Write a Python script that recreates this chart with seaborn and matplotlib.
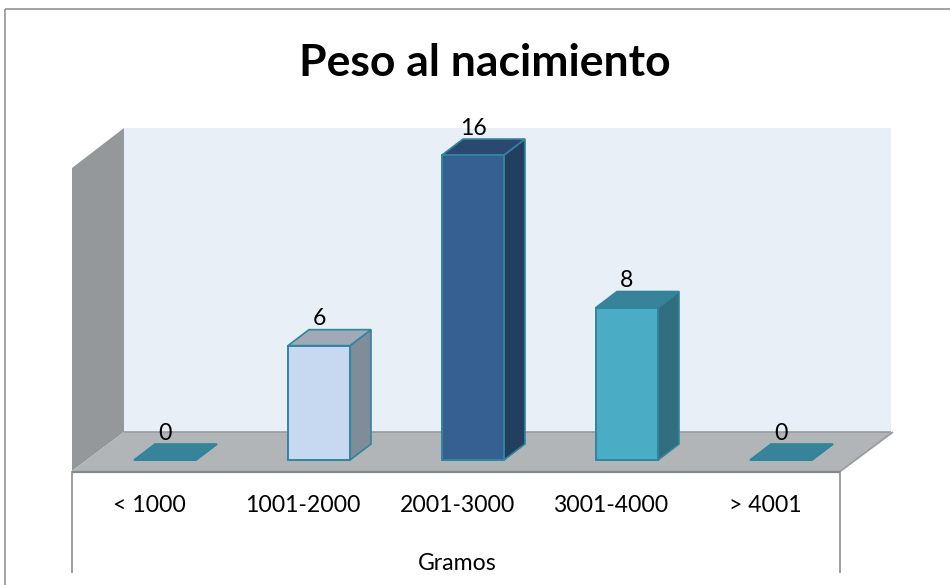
import matplotlib
matplotlib.use("Agg")
import matplotlib.pyplot as plt
from matplotlib.patches import Polygon
from matplotlib.transforms import Affine2D
import pandas as pd
import seaborn as sns

# Data
categories = ["< 1000", "1001-2000", "2001-3000", "3001-4000", "> 4001"]
values = [0, 6, 16, 8, 0]
title = "Peso al nacimiento"
axis_label = "Gramos"

# Styles
front_colors = ["#31859c", "#c6d9f0", "#366092", "#4bacc6", "#31859c"]
side_colors = ["#31859c", "#7f8c9a", "#223f5f", "#316f80", "#31859c"]
top_colors = ["#37839a", "#a0a9b7", "#2b4870", "#38829a", "#37839a"]
edge_color = "#31859c"
W, H = 950, 585

sns.set_theme(style="white")
plt.rcParams["font.family"] = ["Lato", "DejaVu Sans"]

fig = plt.figure(figsize=(W / 100, H / 100), dpi=100)
ax = fig.add_axes([0, 0, 1, 1])

# Data scale: one category = 154 px, one unit = 19.06 px, origin at px (165, 460)
px_per_cat, px_per_unit = 154.0, 19.06
ax.set_xlim(-165 / px_per_cat, (W - 165) / px_per_cat)
ax.set_ylim(-(H - 460) / px_per_unit, 460 / px_per_unit)
depth_x, depth_y = 21 / px_per_cat, 16 / px_per_unit
label_shift = 16 / px_per_cat

# Chart furniture in pixel coordinates (top-left origin)
pix = Affine2D().scale(1 / W, -1 / H).translate(0, 1) + fig.transFigure


def furn(pts, fc, ec="none", lw=0, z=1):
    ax.add_patch(Polygon(pts, closed=True, fc=fc, ec=ec, lw=lw, transform=pix, zorder=z))


def line(xs, ys, c="#8c8c8c", lw=1.2, z=2):
    ax.plot(xs, ys, color=c, lw=lw, transform=pix, zorder=z, solid_capstyle="butt")


line([5, 950], [9, 9], "#8a8a8a", 1.1)
line([5, 5], [9, 585], "#8a8a8a", 1.1)
furn([(124, 128), (891, 128), (891, 432), (124, 432)], "#e8eff7")
furn([(72, 168), (124, 128), (124, 432), (72, 471)], "#94989b")
furn([(72, 471), (124, 432), (893, 432), (840, 471)], "#b1b5b8")
line([124, 891], [432, 432], "#979b9e", 1.2)
line([72, 840], [471.5, 471.5], "#858889", 1.6)
line([840, 893], [471.5, 432], "#97999b", 1.2)
line([72, 72], [471, 573])
line([840, 840], [471, 573])

# Bars through seaborn
df = pd.DataFrame({"cat": categories, "val": values})
sns.barplot(data=df, x="cat", y="val", hue="cat", palette=front_colors, legend=False,
            width=62 / px_per_cat, ax=ax, edgecolor=edge_color, linewidth=1.4,
            zorder=4, saturation=1)
ax.set_xlim(-165 / px_per_cat, (W - 165) / px_per_cat)
ax.set_ylim(-(H - 460) / px_per_unit, 460 / px_per_unit)
ax.axis("off")

bars = [b for cont in ax.containers for b in cont]
for patch, v, side, top in zip(bars, values, side_colors, top_colors):
    x0 = patch.get_x()
    x1 = x0 + patch.get_width()
    ax.add_patch(Polygon([(x1, 0), (x1 + depth_x, depth_y), (x1 + depth_x, v + depth_y), (x1, v)],
                         closed=True, fc=side, ec=edge_color, lw=1.2, zorder=3))
    ax.add_patch(Polygon([(x0, v), (x0 + depth_x, v + depth_y), (x1 + depth_x, v + depth_y), (x1, v)],
                         closed=True, fc=top, ec=edge_color, lw=1.2, zorder=3))

# Value labels
for i, v in enumerate(values):
    ax.text(i, v + 27 / px_per_unit, str(v), ha="center", va="center", fontsize=16.6,
            color="black", zorder=6)

# Texts
for i, c in enumerate(categories):
    ax.text(i - label_shift, -46 / px_per_unit, c, ha="center", va="center", fontsize=16.6,
            color="black", zorder=6)
ax.text(2 - label_shift, -103 / px_per_unit, axis_label, ha="center", va="center", fontsize=16.6,
        color="black", zorder=6)
ax.text(484.5 / W, 1 - 62.5 / H, title, transform=fig.transFigure, ha="center", va="center",
        fontsize=32, fontweight="bold", color="black", zorder=6)

fig.savefig("out.png", dpi=100)
